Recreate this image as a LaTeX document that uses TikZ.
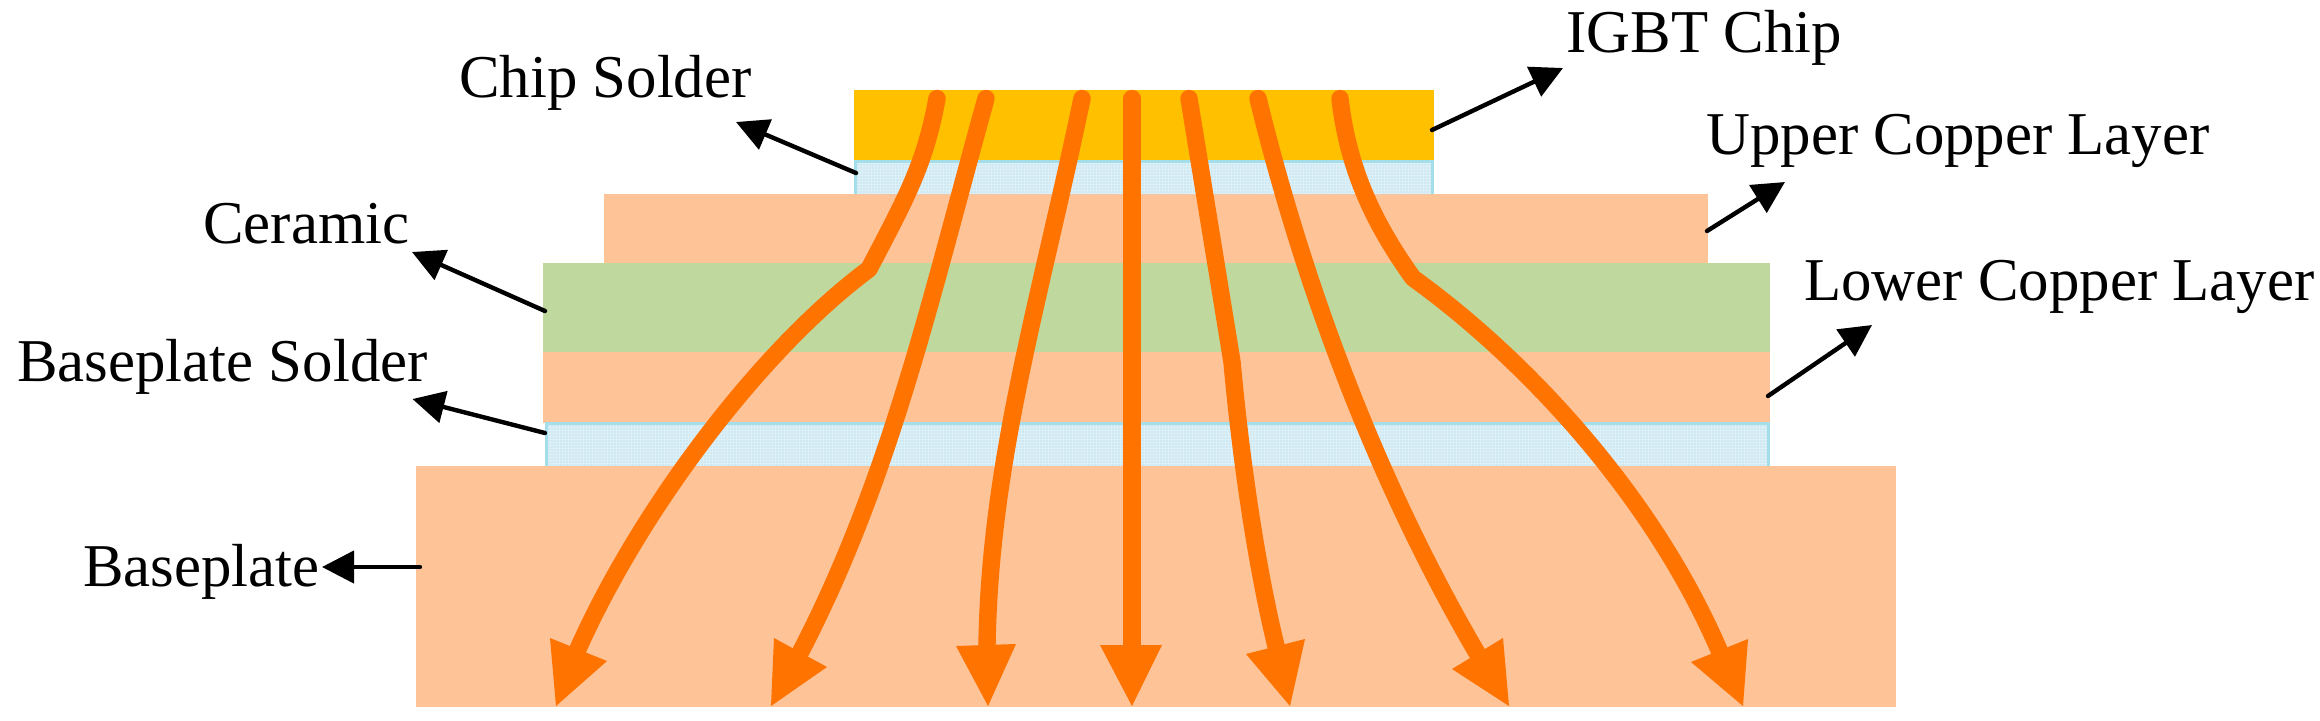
\documentclass[tikz,border=0pt]{standalone}
\usepackage{fontspec}
\setmainfont{Liberation Serif}
\usetikzlibrary{arrows.meta,patterns.meta}
\definecolor{heat}{HTML}{FF7300}
\definecolor{copper}{HTML}{FEC397}
\definecolor{chipcol}{HTML}{FFC000}
\definecolor{ceramiccol}{HTML}{BFD89E}
\definecolor{solderedge}{HTML}{A5DEEB}
\definecolor{solderfill}{HTML}{DDF0F8}
\definecolor{solderdot}{HTML}{A3D3E6}
\tikzset{
  lbl/.style={anchor=base west,inner sep=0pt,font=\fontsize{30.4pt}{36pt}\selectfont,text=black},
  leader/.style={draw=black,line width=2.2pt,line cap=round,-{Triangle[length=16pt,width=16pt]}},
  flow/.style={draw=heat,line width=8.7pt,line cap=round,line join=round},
  flowhead/.style={fill=heat},
  soldereg/.style={fill=solderfill},
  solderpat/.style={pattern={Dots[radius=0.33pt,distance=1.5pt]},pattern color=solderdot},
}
\begin{document}
\begin{tikzpicture}[x=0.5pt,y=-0.5pt]
\useasboundingbox (0,0) rectangle (2320,720);
% layers
\fill[copper] (416,466) rectangle (1896,707);
\fill[copper] (543,352) rectangle (1770,423);
\fill[ceramiccol] (543,263) rectangle (1770,352);
\fill[copper] (604,194) rectangle (1708,263);
\fill[chipcol] (854,90) rectangle (1434,160);
% solders
\fill[solderedge] (545,422) rectangle (1770,466);
\fill[soldereg] (548,425) rectangle (1767,466);
\fill[solderpat] (548,425) rectangle (1767,466);
\fill[solderedge] (854,160) rectangle (1434,194);
\fill[soldereg] (857,163) rectangle (1431,194);
\fill[solderpat] (857,163) rectangle (1431,194);
% heat flow
\draw[flow] (937,98.5) .. controls (925,165) and (905,200) .. (869,269)
            .. controls (760,350) and (640,510) .. (578,649);
\fill[flowhead] (550,638) -- (607,661) -- (556,706) -- cycle;
\draw[flow] (986,98.5) .. controls (930,300) and (890,480) .. (800,653);
\fill[flowhead] (774,638) -- (827,667) -- (771,706) -- cycle;
\draw[flow] (1082,98.5) .. controls (1040,300) and (990,460) .. (987,645);
\fill[flowhead] (956,646) -- (1016,644) -- (988,706) -- cycle;
\draw[flow] (1132,98.5) -- (1132,645);
\fill[flowhead] (1100,645) -- (1162,645) -- (1132,706) -- cycle;
\draw[flow] (1189,98.5) -- (1232,362) .. controls (1240,450) and (1255,560) .. (1276,646);
\fill[flowhead] (1246,654) -- (1305,639) -- (1290,706) -- cycle;
\draw[flow] (1258,98.5) .. controls (1300,270) and (1370,470) .. (1477,653);
\fill[flowhead] (1452,669) -- (1503,638) -- (1509,706) -- cycle;
\draw[flow] (1340,98.5) .. controls (1348,170) and (1375,225) .. (1413,278)
            .. controls (1520,355) and (1650,490) .. (1719,650);
\fill[flowhead] (1691,662) -- (1748,639) -- (1743,706) -- cycle;
% labels
\node[lbl] (igbt) at (1566,52) {IGBT Chip};
\node[lbl] (upper) at (1706,154) {Upper Copper Layer};
\node[lbl] (lower) at (1804,300) {Lower Copper Layer};
\node[lbl] (chipsolder) at (459,97) {Chip Solder};
\node[lbl] (ceramic) at (203,243) {Ceramic};
\node[lbl] (basesolder) at (17,381) {Baseplate Solder};
\node[lbl] (baseplate) at (83,586) {Baseplate};
% leader ends
\coordinate (igbtA) at (1432,130);   \coordinate (igbtB) at (1563,68);
\coordinate (upperA) at (1707,231);  \coordinate (upperB) at (1785,182);
\coordinate (lowerA) at (1768,396);  \coordinate (lowerB) at (1872,325);
\coordinate (csA) at (856,173);      \coordinate (csB) at (736,122);
\coordinate (ceA) at (545,311);      \coordinate (ceB) at (412,252);
\coordinate (bsA) at (545,433);      \coordinate (bsB) at (412.5,399);
\coordinate (bpA) at (420,567);      \coordinate (bpB) at (322,567);
\draw[leader] (igbtA) -- (igbtB);
\draw[leader] (upperA) -- (upperB);
\draw[leader] (lowerA) -- (lowerB);
\draw[leader] (csA) -- (csB);
\draw[leader] (ceA) -- (ceB);
\draw[leader] (bsA) -- (bsB);
\draw[leader] (bpA) -- (bpB);
\end{tikzpicture}
\end{document}
